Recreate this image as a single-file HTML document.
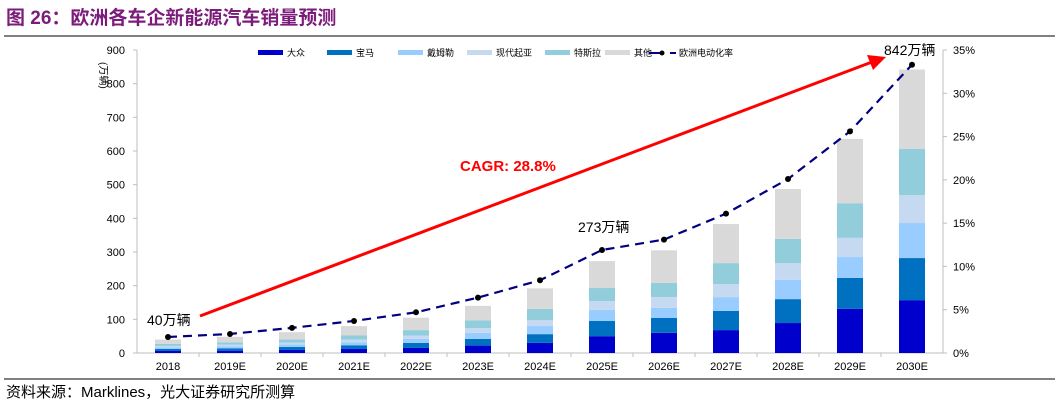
<!DOCTYPE html>
<html><head><meta charset="utf-8">
<style>
body{margin:0;background:#fff;width:1055px;height:412px;overflow:hidden;font-family:"Liberation Sans","Noto Sans CJK SC",sans-serif;}
</style></head>
<body>
<svg id="chart" width="1055" height="412" xmlns="http://www.w3.org/2000/svg" font-family="Liberation Sans, Noto Sans CJK SC, sans-serif">
<text x="6" y="24" font-size="19" font-weight="bold" fill="#7b1c7b">图 26：欧洲各车企新能源汽车销量预测</text>
<line x1="4" y1="36" x2="1055" y2="36" stroke="#000" stroke-width="1"/>
<line x1="4" y1="379" x2="1055" y2="379" stroke="#000" stroke-width="1"/>
<text x="6" y="397" font-size="15" fill="#000">资料来源：Marklines，光大证券研究所测算</text>
<g id="plot"></g>
</svg>
<script>
const categories=["2018","2019E","2020E","2021E","2022E","2023E","2024E","2025E","2026E","2027E","2028E","2029E","2030E"];
const vw=[6,7,9,12,15,22,30,50,60,68,89,131,157];
const bmw=[6,7,9,11,15,20,26,45,44,57,71,92,125];
const daimler=[5,6,7,9,12,18,24,33,30,41,57,62,104];
const hyundai=[4,5,6,8,10,14,18,26,32,39,50,57,83];
const tesla=[6,7,9,12,16,23,33,39,42,62,72,103,137];
const other=[13,16,22,28,37,43,61,80,97,116,148,191,236];
const rate=[1.85,2.2,2.9,3.7,4.7,6.4,8.4,11.9,13.1,16.1,20.1,25.6,33.3];
const leftTicks=[0,100,200,300,400,500,600,700,800,900];
const rightTicks=[0,5,10,15,20,25,30,35];
const seriesNames=["大众","宝马","戴姆勒","现代起亚","特斯拉","其他"];
const colors=["#0000cc","#0070c0","#99ccff","#c5d9f1","#92cddc","#d9d9d9"];
const NS="http://www.w3.org/2000/svg";
const g=document.getElementById('plot');
const x0=137,x1=943,yB=353,yT=50;
const step=(x1-x0)/categories.length;
const xC=i=>x0+step*(i+0.5);
const yL=v=>yB-(v/900)*(yB-yT);
const yR=v=>yB-(v/35)*(yB-yT);
function mk(t,a){const e=document.createElementNS(NS,t);for(const k in a)e.setAttribute(k,a[k]);g.appendChild(e);return e;}
// axes
let e=mk('line',{x1:x0,y1:yT,x2:x0,y2:yB,stroke:'#bfbfbf'});


e=mk('line',{x1:x0,y1:yB,x2:x1,y2:yB,stroke:'#bfbfbf'});


e=mk('line',{x1:x1,y1:yT,x2:x1,y2:yB,stroke:'#bfbfbf'});


leftTicks.forEach(v=>{const t=mk('text',{x:x0-12,y:yL(v)+4,'font-size':11,'text-anchor':'end',fill:'#000'});t.textContent=v;


mk('line',{x1:x0-4,y1:yL(v),x2:x0,y2:yL(v),stroke:'#bfbfbf'});});
rightTicks.forEach(v=>{const t=mk('text',{x:x1+10,y:yR(v)+4,'font-size':11,fill:'#000'});t.textContent=v+'%';


mk('line',{x1:x1,y1:yR(v),x2:x1+4,y2:yR(v),stroke:'#bfbfbf'});});
const yt=mk('text',{x:0,y:0,'font-size':10,transform:'translate(100,62) rotate(90)',fill:'#000'});yt.textContent='(万辆)';


// bars
const series=[vw,bmw,daimler,hyundai,tesla,other];
categories.forEach((c,i)=>{
  let acc=0;
  series.forEach((s,k)=>{const r=mk('rect',{x:xC(i)-13,y:yL(acc+s[i]),width:26,height:yL(acc)-yL(acc+s[i]),fill:colors[k]});
  
  
  acc+=s[i];});
  const t=mk('text',{x:xC(i),y:370,'font-size':11,'text-anchor':'middle',fill:'#000'});t.textContent=c;
  
  
  if(i>0)mk('line',{x1:x0+step*i,y1:yB,x2:x0+step*i,y2:yB+4,stroke:'#bfbfbf'});
});
// rate line
const pts=rate.map((v,i)=>xC(i)+','+yR(v)).join(' ');
const pl=mk('polyline',{points:pts,fill:'none',stroke:'#000080','stroke-width':2.2,'stroke-dasharray':'9,6'});


rate.forEach((v,i)=>{const c=mk('circle',{cx:xC(i),cy:yR(v),r:3,fill:'#000'});

});
// arrow
const ar=mk('line',{x1:200,y1:316,x2:872,y2:62,stroke:'#ff0000','stroke-width':3});


const ah=mk('polygon',{points:'886,57 867,55 873,70',fill:'#ff0000'});


function lab(txt,x,y,size,extra,name){const t=mk('text',Object.assign({x:x,y:y,'font-size':size,fill:'#000'},extra||{}));t.textContent=txt;

}
lab('CAGR: 28.8%',460,171,15,{fill:'#ff0000','font-weight':'bold'},'cagr-label');
lab('40万辆',147,325,14,{},'label-2018');
lab('273万辆',578,232,14,{},'label-2025');
lab('842万辆',884,55,14,{},'label-2030');
// legend
const lx=[258,327,398,467,545,605];
seriesNames.forEach((n,k)=>{const r=mk('rect',{x:lx[k],y:50,width:25,height:5,fill:colors[k]});


lab(n,lx[k]+29,56,9,{},'legend-entry');});
mk('line',{x1:649,y1:53,x2:664,y2:53,stroke:'#000080','stroke-width':2});
mk('circle',{cx:662,cy:53,r:2.5,fill:'#000'});
mk('line',{x1:670,y1:53,x2:676,y2:53,stroke:'#000080','stroke-width':2});
lab('欧洲电动化率',679,56,9,{},'legend-entry');
</script>
</body></html>
